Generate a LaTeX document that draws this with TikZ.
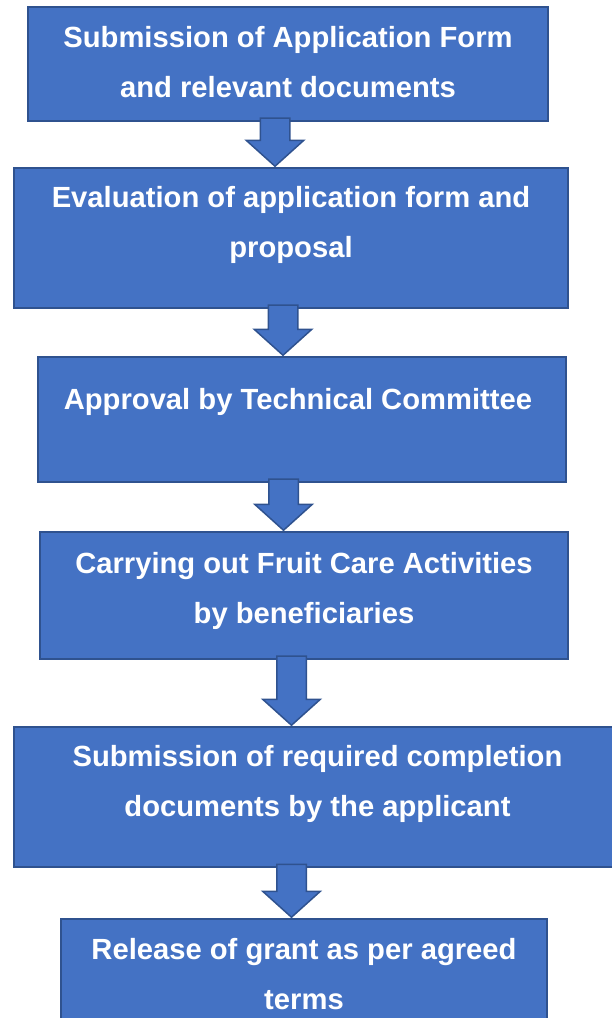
\documentclass[tikz,border=0pt]{standalone}
\usepackage{fontspec}
\setmainfont{Liberation Sans}
\usepackage{tikz}
\usetikzlibrary{positioning, shapes.arrows, calc}
\usepackage{xcolor}
\definecolor{stageFill}{HTML}{4472C4}
\definecolor{stageEdge}{HTML}{2F528F}

\begin{document}
\begin{tikzpicture}[x=1bp, y=-1bp,
		stage/.style={rectangle, draw=stageEdge, fill=stageFill, line width=1.5bp, inner sep=0pt},
		stageText/.style={align=center, inner sep=0pt, text=white, font=\fontsize{29.3}{50}\selectfont\bfseries},
		flowArrow/.style={single arrow, draw=stageEdge, fill=stageFill, line width=1.5bp, inner sep=0pt, text height=28bp, text depth=0pt, minimum width=56bp, single arrow head extend=14bp, single arrow tip angle=96, rotate=-90, anchor=tip}]
		\useasboundingbox (0,0) rectangle (612,1018);
		\clip (0,0) rectangle (612,1018);

		\node (submission)[stage, minimum width=520bp, minimum height=114bp] at (288,64) {};
		\node (evaluation)[stage, minimum width=554bp, minimum height=140bp] at (291,238) {};
		\node (approval)[stage, minimum width=528bp, minimum height=125bp] at (302,419.5) {};
		\node (activities)[stage, minimum width=528bp, minimum height=127bp] at (304,595.5) {};
		\node (completion)[stage, minimum width=607bp, minimum height=140bp] at (317.5,797) {};
		\node (release)[stage, minimum width=486bp, minimum height=115bp] at (304,976.5) {};

		\node (submissionText)[stageText, below=20bp of submission.north] { Submission of Application Form \\ and relevant documents };
		\node (evaluationText)[stageText, below=19bp of evaluation.north] { Evaluation of application form and \\ proposal };
		\node (approvalText)[stageText, below=32bp of approval.north] { Approval by Technical Committee };
		\node (activitiesText)[stageText, below=21bp of activities.north] { Carrying out Fruit Care Activities \\ by beneficiaries };
		\node (completionText)[stageText, below=19bp of completion.north] { Submission of required completion \\ documents by the applicant };
		\node (releaseText)[stageText, below=20bp of release.north] { Release of grant as per agreed \\ terms };

		\node (arrowOne)[flowArrow, minimum height=48bp] at ($(evaluation.north)+(-16,0)$) {};
		\node (arrowTwo)[flowArrow, minimum height=50bp] at ($(approval.north)+(-19,0)$) {};
		\node (arrowThree)[flowArrow, minimum height=51bp] at ($(activities.north)+(-20.5,0)$) {};
		\node (arrowFour)[flowArrow, minimum height=69bp] at ($(completion.north)+(-26,0)$) {};
		\node (arrowFive)[flowArrow, minimum height=53bp] at ($(release.north)+(-12.5,0)$) {};
	\end{tikzpicture}
\end{document}
